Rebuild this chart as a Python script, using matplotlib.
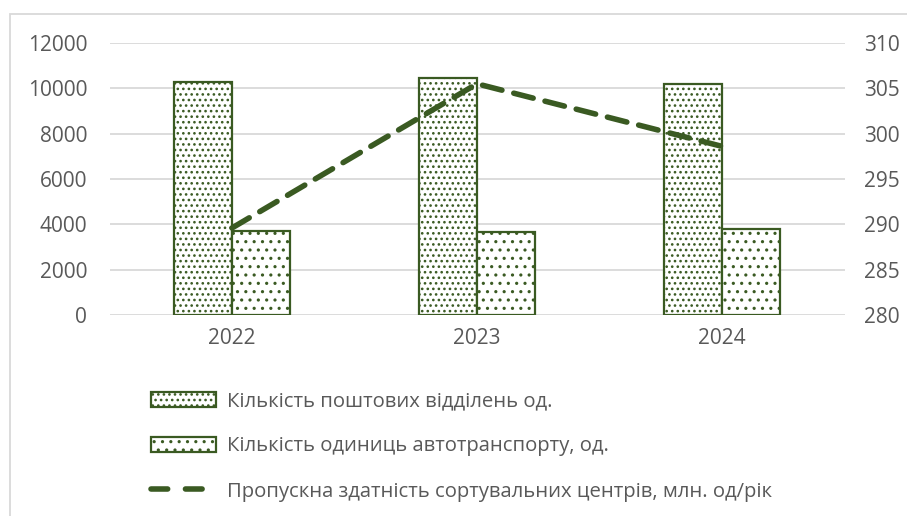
import matplotlib
matplotlib.use("Agg")
import matplotlib.pyplot as plt
import numpy as np
from matplotlib.patches import Rectangle
from matplotlib.lines import Line2D

years = ["2022", "2023", "2024"]
post_offices = [10300, 10450, 10200]
vehicles = [3700, 3650, 3800]
capacity = [289.6, 305.5, 298.6]

label_po = "Кількість поштових відділень од."
label_veh = "Кількість одиниць автотранспорту, од."
label_cap = "Пропускна здатність сортувальних центрів, млн. од/рік"

green = "#3A5A22"
txt = "#595959"
grid = "#D9D9D9"

plt.rcParams['font.family'] = ['Open Sans', 'DejaVu Sans']
plt.rcParams['hatch.linewidth'] = 1.1

W, H = 907, 516
fig = plt.figure(figsize=(W/100, H/100), dpi=100)
ax = fig.add_axes([109.5/W, 1-315/H, 735/W, 272/H])

x = np.arange(len(years))
bw = 0.238
b1 = ax.bar(x - bw/2, post_offices, bw, facecolor="white", edgecolor=green,
            linewidth=1.6, hatch="...", label=label_po, zorder=3)
b2 = ax.bar(x + bw/2, vehicles, bw, facecolor="white", edgecolor=green,
            linewidth=1.6, hatch="..", label=label_veh, zorder=3)
ax.set_xlim(-0.5, 2.5)
ax.set_ylim(0, 12000)
ax.set_yticks(range(0, 12001, 2000))
ax.set_xticks(x)
ax.set_xticklabels(years)
ax.yaxis.grid(True, color=grid, linewidth=1.3, zorder=0)
ax.set_axisbelow(True)
for s in ax.spines.values():
    s.set_visible(False)
ax.tick_params(length=0, labelsize=15, labelcolor=txt)
ax.tick_params(axis='y', pad=16)
ax.tick_params(axis='x', pad=9)

ax2 = ax.twinx()
ln, = ax2.plot(x, capacity, color=green, linewidth=4, linestyle=(0, (3.6, 2.2)),
               dash_capstyle='round', label=label_cap, zorder=4)
ax2.set_ylim(280, 310)
ax2.set_yticks(range(280, 311, 5))
for s in ax2.spines.values():
    s.set_visible(False)
ax2.tick_params(length=0, labelsize=15, labelcolor=txt, pad=14)

ln_proxy = Line2D([], [], color=green, linewidth=4, linestyle=(0, (3.0, 3.2)),
                  dash_capstyle='round')

leg = fig.legend([b1, b2, ln_proxy], [label_po, label_veh, label_cap],
                 loc="upper left", bbox_to_anchor=(133/W, 1-373/H),
                 frameon=False, fontsize=14.6, labelcolor=txt,
                 handlelength=3.2, handleheight=0.75, handletextpad=0.55,
                 labelspacing=1.24)

fig.patches.append(Rectangle((9.5/W, -0.1), 2, 1.1-14/H, transform=fig.transFigure,
                             fill=False, edgecolor=grid, linewidth=1.3))

fig.savefig("out.png", dpi=100)
